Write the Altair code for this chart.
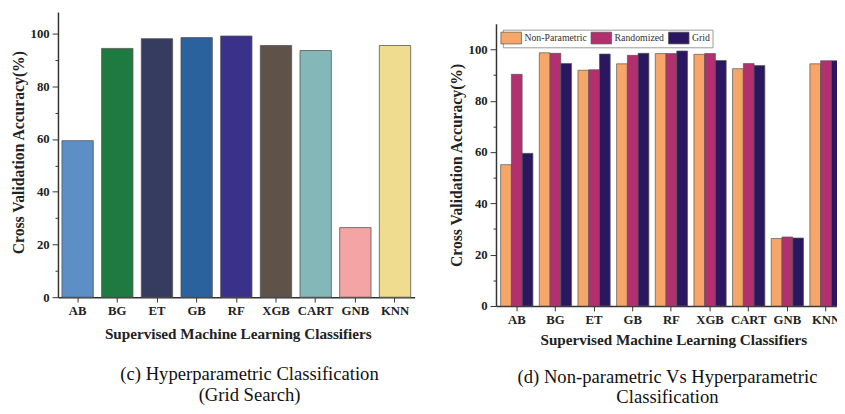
import altair as alt
import pandas as pd

# ---------------- data ----------------
classifiers = ["AB", "BG", "ET", "GB", "RF", "XGB", "CART", "GNB", "KNN"]

# (c) grid search accuracies
grid_search_acc = [59.4, 94.4, 98.1, 98.5, 99.1, 95.5, 93.6, 26.4, 95.5]
left_colors = ["#5b8fc6", "#1f7a41", "#363b60", "#2a629e", "#39318a",
               "#5e5249", "#84b8b8", "#f4a4a4", "#f0dc8e"]

# (d) comparison
methods = ["Non-Parametric", "Randomized", "Grid"]
nonparam_acc = [55.1, 98.7, 91.9, 94.4, 98.4, 98.1, 92.5, 26.3, 94.4]
random_acc = [90.3, 98.5, 92.1, 97.7, 98.4, 98.4, 94.5, 26.9, 95.6]
grid_acc = [59.5, 94.5, 98.2, 98.5, 99.4, 95.7, 93.7, 26.5, 95.6]
method_colors = ["#f5a668", "#b3306f", "#2a1760"]

y_ticks = list(range(0, 101, 10))

FONT = "Liberation Serif"
YTITLE = "Cross Validation Accuracy(%)"
XTITLE = "Supervised Machine Learning Classifiers"


def y_axis(title_pad, **kw):
    return alt.Axis(
        values=y_ticks,
        labelExpr="datum.value % 20 === 0 ? datum.label : ''",
        tickSize={"condition": {"test": "datum.value % 20 === 0", "value": 6}, "value": 3},
        labelPadding=3,
        title=YTITLE,
        titlePadding=title_pad,
        grid=False,
        **kw,
    )


# ---------------- left panel (c) ----------------
df_left = pd.DataFrame({"clf": classifiers, "acc": grid_search_acc})

left = (
    alt.Chart(df_left)
    .mark_bar(stroke="#555555", strokeWidth=0.8)
    .encode(
        x=alt.X("clf:N", sort=classifiers,
                scale=alt.Scale(paddingInner=0.21, paddingOuter=0.1),
                axis=alt.Axis(labelAngle=0, tickSize=5, labelPadding=3,
                              title=XTITLE, titlePadding=9, grid=False,
                              titleX=183.5)),
        y=alt.Y("acc:Q", scale=alt.Scale(domain=[0, 108.2], nice=False),
                axis=y_axis(4, titleY=143)),
        color=alt.Color("clf:N", sort=classifiers,
                        scale=alt.Scale(domain=classifiers, range=left_colors),
                        legend=None),
    )
    .properties(
        width=364, height=291,
        title=alt.TitleParams(
            text=["(c) Hyperparametric Classification", "(Grid Search)"],
            orient="bottom", anchor="middle", frame="group", offset=24, dx=13.5,
            fontSize=19, fontWeight="normal", font=FONT, color="#111111",
            lineHeight=21,
        ),
    )
)

# ---------------- right panel (d) ----------------
df_right = pd.DataFrame({
    "clf": classifiers * 3,
    "method": [m for m in methods for _ in classifiers],
    "acc": nonparam_acc + random_acc + grid_acc,
})

right = (
    alt.Chart(df_right)
    .mark_bar(stroke="#555555", strokeWidth=0.7)
    .encode(
        x=alt.X("clf:N", sort=classifiers,
                scale=alt.Scale(paddingInner=0.165, paddingOuter=0.12),
                axis=alt.Axis(labelAngle=0, tickSize=5, labelPadding=3,
                              title=XTITLE, titlePadding=6, grid=False,
                              titleX=181)),
        xOffset=alt.XOffset("method:N", sort=methods,
                            scale=alt.Scale(domain=methods, paddingInner=0, paddingOuter=0)),
        y=alt.Y("acc:Q", scale=alt.Scale(domain=[0, 110], nice=False),
                axis=y_axis(4)),
        color=alt.Color(
            "method:N", sort=methods,
            scale=alt.Scale(domain=methods, range=method_colors),
            legend=alt.Legend(
                title=None, orient="none", legendX=7, legendY=18,
                direction="horizontal",
                symbolType="M-1.75,-1H1.75V1H-1.75Z", symbolSize=144,
                symbolStrokeColor="#555555", symbolStrokeWidth=0.7,
                labelFont=FONT, labelFontSize=10, labelColor="#333333",
                labelOffset=7, columnPadding=2,
                strokeColor="#999999", fillColor="white", padding=2,
            ),
        ),
    )
    .properties(
        width=358, height=288,
        title=alt.TitleParams(
            text=["(d) Non-parametric Vs Hyperparametric", "Classification"],
            orient="bottom", anchor="middle", frame="group", offset=21, dx=-4,
            fontSize=19, fontWeight="normal", font=FONT, color="#111111",
            lineHeight=20,
        ),
    )
)

spacer = (
    alt.Chart(pd.DataFrame({"s": [0]}))
    .mark_point(size=0, opacity=0)
    .encode(x=alt.value(0), y=alt.value(0))
    .properties(width=10, height=11.5)
)

right_col = alt.vconcat(spacer, right, spacing=0)

chart = (
    alt.hconcat(left, right_col, spacing=34)
    .resolve_scale(color="independent")
    .properties(padding={"left": 2, "top": 0, "right": -10, "bottom": -1})
    .configure_view(stroke=None)
    .configure_axis(
        labelFont=FONT, labelFontSize=13, labelFontWeight="bold", labelColor="#222222",
        titleFont=FONT, titleFontSize=15.5, titleFontWeight="bold", titleColor="#222222",
        domainColor="#333333", domainWidth=1.5, tickColor="#333333", tickWidth=1,
    )
    .configure_axisY(titleFontSize=16)
)

chart.save("out.html", embed_options={"renderer": "svg", "actions": False})
